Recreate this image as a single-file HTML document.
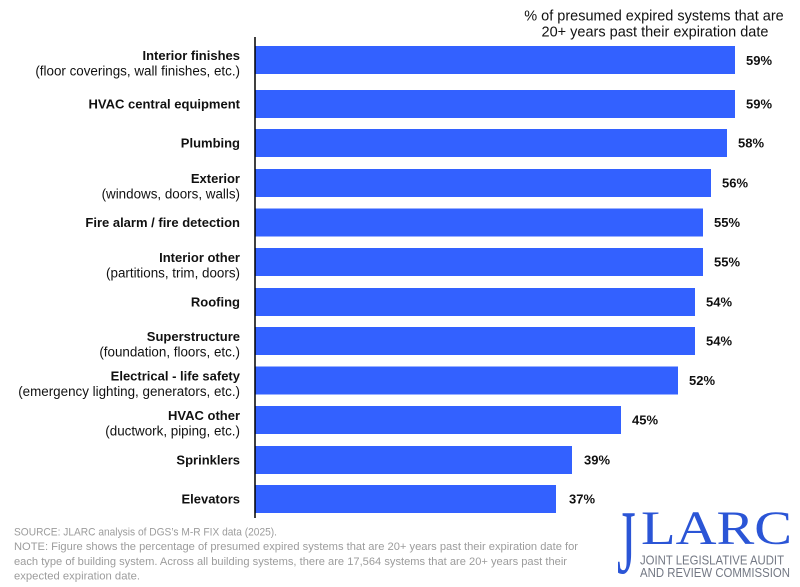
<!DOCTYPE html>
<html><head><meta charset="utf-8"><style>
html,body{margin:0;padding:0;background:#fff;}
svg{display:block;}
.cat{font-family:"Liberation Sans",sans-serif;font-size:13px;font-weight:bold;fill:#111;}
.sub{font-family:"Liberation Sans",sans-serif;font-size:13.4px;fill:#111;}
.val{font-family:"Liberation Sans",sans-serif;font-size:13px;font-weight:bold;fill:#111;}
.ttl{font-family:"Liberation Sans",sans-serif;font-size:14.5px;fill:#111;}
.note{font-family:"Liberation Sans",sans-serif;font-size:11px;fill:#9c9c9c;}
</style></head><body>
<svg width="800" height="587" viewBox="0 0 800 587" xmlns="http://www.w3.org/2000/svg">
<rect width="800" height="587" fill="#fff"/>
<text class="ttl" x="654" y="20.5" text-anchor="middle">% of presumed expired systems that are</text>
<text class="ttl" x="655" y="36.5" text-anchor="middle">20+ years past their expiration date</text>

<g fill="#3361FF">
<rect x="255" y="46" width="480" height="28"/>
<rect x="255" y="90" width="480" height="28"/>
<rect x="255" y="129" width="472" height="28"/>
<rect x="255" y="169" width="456" height="28"/>
<rect x="255" y="208.5" width="448" height="28"/>
<rect x="255" y="248" width="448" height="28"/>
<rect x="255" y="288" width="440" height="28"/>
<rect x="255" y="327" width="440" height="28"/>
<rect x="255" y="366.5" width="423" height="28"/>
<rect x="255" y="406" width="366" height="28"/>
<rect x="255" y="446" width="317" height="28"/>
<rect x="255" y="485" width="301" height="28"/>
</g>
<line x1="255" y1="37" x2="255" y2="518" stroke="#000" stroke-width="1.5"/>

<g text-anchor="end">
<text class="cat" x="240" y="60">Interior finishes</text>
<text class="sub" x="240" y="75.5">(floor coverings, wall finishes, etc.)</text>
<text class="cat" x="240" y="108.5">HVAC central equipment</text>
<text class="cat" x="240" y="147.5">Plumbing</text>
<text class="cat" x="240" y="183">Exterior</text>
<text class="sub" x="240" y="198.5">(windows, doors, walls)</text>
<text class="cat" x="240" y="227">Fire alarm / fire detection</text>
<text class="sub" x="240" y="277.5" style="display:none"></text>
<text class="cat" x="240" y="262">Interior other</text>
<text class="sub" x="240" y="277.5">(partitions, trim, doors)</text>
<text class="cat" x="240" y="306.5">Roofing</text>
<text class="cat" x="240" y="341">Superstructure</text>
<text class="sub" x="240" y="356.5">(foundation, floors, etc.)</text>
<text class="cat" x="240" y="380.5">Electrical - life safety</text>
<text class="sub" x="240" y="396">(emergency lighting, generators, etc.)</text>
<text class="cat" x="240" y="420">HVAC other</text>
<text class="sub" x="240" y="435.5">(ductwork, piping, etc.)</text>
<text class="cat" x="240" y="464.5">Sprinklers</text>
<text class="cat" x="240" y="503.5">Elevators</text>
</g>

<g>
<text class="val" x="746" y="65">59%</text>
<text class="val" x="746" y="108.5">59%</text>
<text class="val" x="738" y="147.5">58%</text>
<text class="val" x="722" y="187.5">56%</text>
<text class="val" x="714" y="227">55%</text>
<text class="val" x="714" y="266.5">55%</text>
<text class="val" x="706" y="306.5">54%</text>
<text class="val" x="706" y="345.5">54%</text>
<text class="val" x="689" y="385">52%</text>
<text class="val" x="632" y="424.5">45%</text>
<text class="val" x="584" y="464.5">39%</text>
<text class="val" x="569" y="503.5">37%</text>
</g>

<text class="note" x="14" y="535.5" textLength="263" lengthAdjust="spacingAndGlyphs">SOURCE: JLARC analysis of DGS’s M-R FIX data (2025).</text>
<text class="note" x="14" y="550" textLength="564" lengthAdjust="spacingAndGlyphs">NOTE: Figure shows the percentage of presumed expired systems that are 20+ years past their expiration date for</text>
<text class="note" x="14" y="564.8" textLength="553" lengthAdjust="spacingAndGlyphs">each type of building system. Across all building systems, there are 17,564 systems that are 20+ years past their</text>
<text class="note" x="14" y="579.5" textLength="126" lengthAdjust="spacingAndGlyphs">expected expiration date.</text>

<g fill="#2b55d6" font-family="'Liberation Serif',serif">
<text x="617" y="544" font-size="48" transform="translate(617,512) scale(1,1.9) translate(-617,-512)">J</text>
<text x="641" y="544" font-size="48" textLength="151" lengthAdjust="spacingAndGlyphs">LARC</text>
</g>
<g fill="#737884" font-family="'Liberation Sans',sans-serif" font-size="12.5">
<text x="640" y="564.5" textLength="144" lengthAdjust="spacingAndGlyphs">JOINT LEGISLATIVE AUDIT</text>
<text x="640" y="577" textLength="150" lengthAdjust="spacingAndGlyphs">AND REVIEW COMMISSION</text>
</g>
</svg>
</body></html>
